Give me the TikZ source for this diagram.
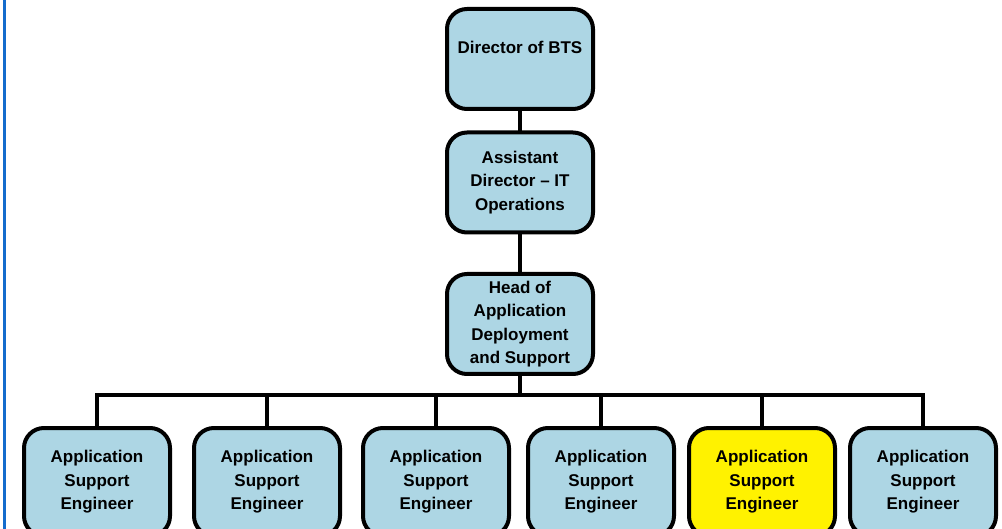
\documentclass[tikz,border=0pt]{standalone}
\usepackage{fontspec}
\setmainfont{Liberation Sans}
\begin{document}
\begin{tikzpicture}[x=1pt,y=-1pt,
  box/.style={draw=black, line width=4pt, rounded corners=20pt, fill=boxblue,
    minimum width=146pt, minimum height=100pt, inner sep=0pt, outer sep=0pt},
  hilite/.style={box, fill=yellow},
  txt/.style={align=center, font=\bfseries\fontsize{17}{23.5}\selectfont, inner sep=0pt},
  link/.style={draw=black, line width=4pt}]
\definecolor{boxblue}{RGB}{173,214,228}
\definecolor{edgeblue}{RGB}{20,108,205}
\useasboundingbox (0,0) rectangle (1002,529);
\clip (0,0) rectangle (1002,529);
\fill[white] (0,0) rectangle (1002,529);
% left page rule
\draw[edgeblue, line width=2.5pt] (4.5,0) -- (4.5,529);

% management chain
\node[box] (dir) at (520,59) {};
\node[txt] (dirtext) at (520,47) {Director of BTS};
\node[box, txt] (asst) at (520,182.5) {Assistant\\Director -- IT\\Operations};
\node[box, txt] (head) at (520,324) {Head of\\Application\\Deployment\\and Support};

% engineers
\foreach \i/\cx/\st in {1/97/box, 2/267/box, 3/436/box, 4/601/box, 5/762/hilite, 6/923/box}
  \node[\st, txt, minimum height=108pt] (eng\i) at (\cx,482) {Application\\Support\\Engineer};

% bus line
\foreach \i in {1,...,6}
  \coordinate (bus\i) at (eng\i.north |- 0,395);

\draw[link] (dir.south) -- (asst.north);
\draw[link] (asst.south) -- (head.north);
\draw[link] (head.south) -- (head.south |- bus1);
\draw[link, line cap=rect] (bus1) -- (bus6);
\foreach \i in {1,...,6}
  \draw[link] (bus\i) -- (eng\i.north);
\end{tikzpicture}
\end{document}
